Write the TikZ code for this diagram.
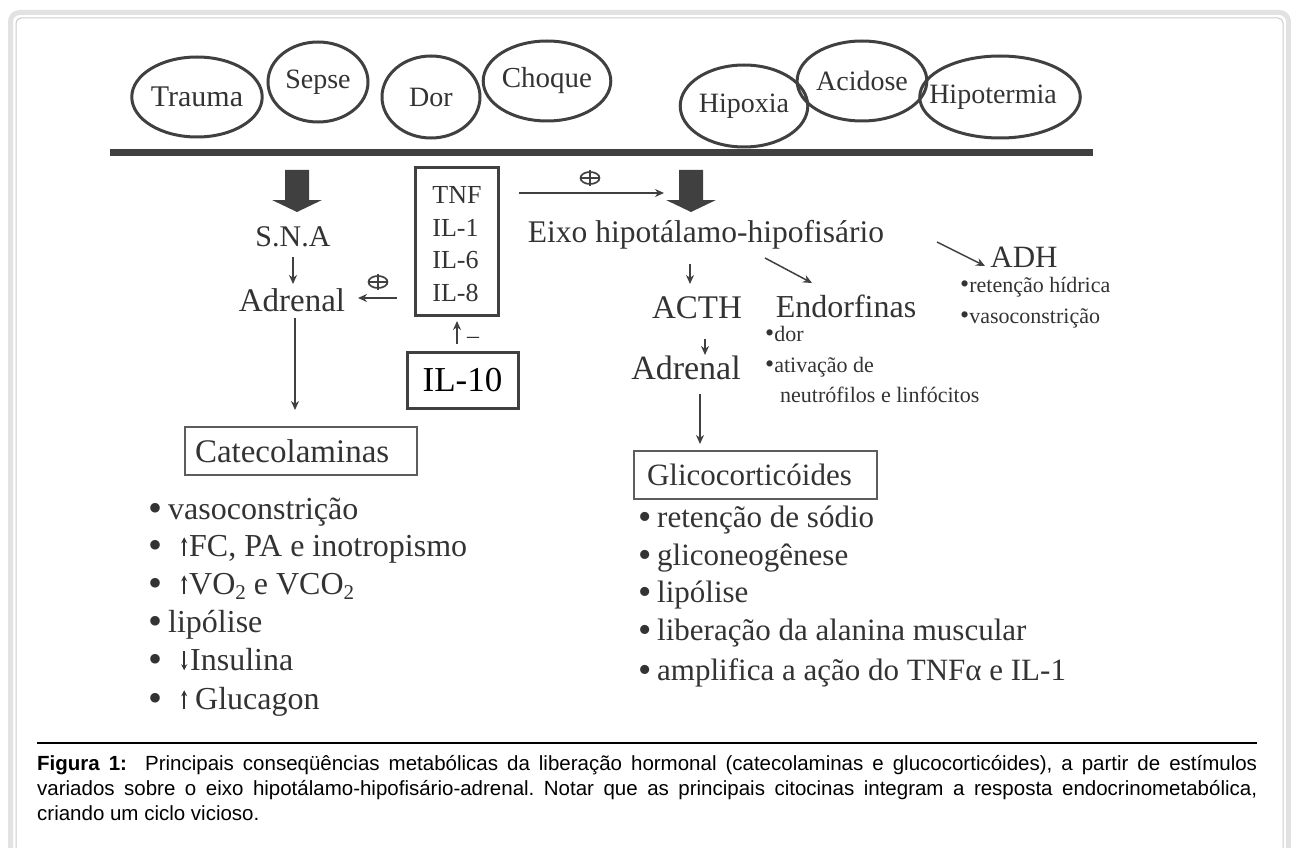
\documentclass[tikz,border=0pt]{standalone}
\usepackage{fontspec}
\setmainfont{Liberation Serif}
\newfontfamily\capfont{Liberation Sans}
\usetikzlibrary{arrows.meta,shapes.geometric}
\definecolor{ink}{HTML}{404040}
\definecolor{txt}{HTML}{333333}
\definecolor{frame}{HTML}{E2E2E2}
\newcommand\fs[1]{\fontsize{#1}{#1}\selectfont}
\newcommand\blt[2]{\raisebox{#2}{\fontsize{#1}{#1}\selectfont •}}
\newcommand\uparr{\tikz[baseline=0pt,x=1pt,y=1pt]\draw[txt,line width=1.8pt,-{Stealth[length=6pt,width=6pt]}] (0,0)--(0,19);}
\newcommand\dnarr{\tikz[baseline=0pt,x=1pt,y=1pt]\draw[txt,line width=1.8pt,-{Stealth[length=6pt,width=6pt]}] (0,19)--(0,0);}
\newcommand\subtwo{\raisebox{-0.35ex}{\fontsize{21}{21}\selectfont 2}}
\tikzset{
  ell/.style={draw=ink, line width=3pt, ellipse, inner sep=0pt, text=txt, font=\fs{28}},
  lbl/.style={text=txt, inner sep=0pt},
  sarr/.style={draw=ink, line width=1.8pt, -{Stealth[length=9pt,width=8pt]}},
  thickbox/.style={draw=ink, line width=3pt, inner sep=0pt},
  thinbox/.style={draw=ink!85, line width=1.5pt},
  oplus/.pic={\draw[ink, line width=1.7pt] (0,0) ellipse [x radius=9.5, y radius=6];
              \draw[ink, line width=1.7pt] (0,-8) -- (0,8);
              \draw[ink, line width=1.2pt] (-9.5,0) -- (9.5,0);},
}
\newcommand\blockarr[2]{%
  \fill[ink] (#1-12,#2) -- (#1+12,#2) -- (#1+12,#2+30) -- (#1+25,#2+30) -- (#1,#2+42) -- (#1-25,#2+30) -- (#1-12,#2+30) -- cycle;}
\begin{document}
\begin{tikzpicture}[x=1pt,y=-1pt]
\useasboundingbox (0,0) rectangle (1291,848);
\begin{scope}
\clip (0,0) rectangle (1291,848);
\draw[frame, line width=5pt, rounded corners=9pt] (10.5,12.5) rectangle (1288.5,880);
\draw[frame!90!black, line width=1pt, rounded corners=5pt] (16,18) rectangle (1283,880);
\end{scope}

% stimuli
\node[ell, minimum width=120pt, minimum height=80pt, font=\fs{30}] (trauma) at (197,97) {Trauma};
\node[ell, minimum width=100pt, minimum height=80pt] (sepse) at (318,82) {Sepse};
\node[ell, minimum width=98pt, minimum height=82pt] (dor) at (431,97) {Dor};
\node[ell, minimum width=124pt, minimum height=80pt, font=\fs{29}] (choque) at (547,81) {Choque};
\node[ell, minimum width=112pt, minimum height=82pt] (hipoxia) at (744,106) {Hipoxia};
\node[ell, minimum width=112pt, minimum height=80pt] (acidose) at (862,81) {Acidose};
\node[ell, minimum width=154pt, minimum height=82pt] (hipotermia) at (1000,97) {\hspace*{-14pt}Hipotermia};

\coordinate (barL) at (110,153);
\coordinate (barR) at (1093,153);
\draw[ink, line width=7pt] (barL) -- (barR);

\blockarr{297}{170}
\blockarr{691}{170}

% left branch
\node[lbl, font=\fs{30}] (sna) at (293,237) {S.N.A};
\node[lbl, font=\fs{33}] (adrL) at (292,300) {Adrenal};
\coordinate (snaA) at (293,257);
\coordinate (snaB) at (293,284);
\draw[sarr, line width=1.5pt] (snaA) -- (snaB);

\node[thickbox, minimum width=83pt, minimum height=147pt] (cyto) at (456.5,241.5) {};
\node[lbl, align=left, font=\fontsize{26}{32.7}\selectfont] (cytotxt) at (457,244) {TNF\\IL-1\\IL-6\\IL-8};

\node[thickbox, minimum width=111pt, minimum height=56pt, font=\fs{35}] (il10) at (462.5,380) {IL-10};
\coordinate (upA) at (457,344);
\coordinate (upB) at (457,321);
\draw[sarr, line width=1.5pt] (upA) -- (upB);
\node[lbl, font=\fs{24}] (minus) at (473,340) {–};

\coordinate (toAdr) at (358,298);
\draw[sarr] (cyto.west |- toAdr) ++(-17,0) -- (toAdr);
\pic at (378,282) {oplus};

\coordinate (toEixo) at (664,193);
\draw[sarr] (cyto.east |- toEixo) ++(19,0) -- (toEixo);
\pic at (590,178) {oplus};

\coordinate (lA) at (295,318);
\coordinate (lB) at (295,410);
\draw[sarr, line width=1.5pt] (lA) -- (lB);

\node[thinbox, minimum height=48pt, inner xsep=10pt, text width=212pt, align=left, text=txt, font=\fs{33}] (cateco) at (301,451) {Catecolaminas};

\begin{scope}[every node/.style={lbl, anchor=mid west, font=\fs{32}}]
\node (c1) at (148,517) {\makebox[20pt][l]{\blt{40}{-2pt}}vasoconstrição};
\node (c2) at (148,554) {\makebox[33pt][l]{\blt{40}{-2pt}}\uparr\hspace{2pt}FC, PA e inotropismo};
\node (c3) at (148,592) {\makebox[33pt][l]{\blt{40}{-2pt}}\uparr\hspace{2pt}VO\subtwo\ e VCO\subtwo};
\node (c4) at (148,630) {\makebox[20pt][l]{\blt{40}{-2pt}}lipólise};
\node (c5) at (148,668) {\makebox[33pt][l]{\blt{40}{-2pt}}\dnarr\hspace{3pt}Insulina};
\node (c6) at (148,707) {\makebox[33pt][l]{\blt{40}{-2pt}}\uparr\hspace{8pt}Glucagon};
\end{scope}

% right branch
\node[lbl, font=\fs{31.5}] (eixo) at (706,235) {Eixo hipotálamo-hipofisário};
\node[lbl, font=\fs{33}] (acth) at (697,308) {ACTH};
\node[lbl, font=\fs{34}] (adrR) at (686,368) {Adrenal};
\node[lbl, font=\fs{32}] (endorf) at (846,306) {Endorfinas};
\node[lbl, font=\fs{31}] (adh) at (1024,257) {ADH};

\coordinate (eA) at (690,264);
\coordinate (eB) at (690,284);
\draw[sarr, line width=1.5pt] (eA) -- (eB);
\coordinate (dA) at (765,258);
\coordinate (dB) at (812,283);
\draw[sarr, line width=1.5pt] (dA) -- (dB);
\coordinate (hA) at (937,242);
\coordinate (hB) at (985,266);
\draw[sarr, line width=1.5pt] (hA) -- (hB);
\coordinate (aA) at (705,339);
\coordinate (aB) at (705,355);
\draw[sarr, line width=1.5pt] (aA) -- (aB);
\coordinate (gA) at (700,394);
\coordinate (gB) at (700,444);
\draw[sarr, line width=1.5pt] (gA) -- (gB);

\begin{scope}[every node/.style={lbl, anchor=mid west, font=\fs{22}}]
\node (r1) at (960,290) {\blt{26}{0pt}retenção hídrica};
\node (r2) at (960,321) {\blt{26}{0pt}vasoconstrição};
\node (d1) at (765,339) {\blt{26}{0pt}dor};
\node (d2) at (765,370) {\blt{26}{0pt}ativação de};
\node (d3) at (780,400) {neutrófilos e linfócitos};
\end{scope}

\node[thinbox, minimum height=48pt, inner xsep=13pt, text width=217pt, align=left, text=txt, font=\fs{31}] (gluco) at (755.5,475) {Glicocorticóides};

\begin{scope}[every node/.style={lbl, anchor=mid west, font=\fs{31}}]
\node (g1) at (638,525) {\makebox[19pt][l]{\blt{38}{-2pt}}retenção de sódio};
\node (g2) at (638,563) {\makebox[19pt][l]{\blt{38}{-2pt}}gliconeogênese};
\node (g3) at (638,600) {\makebox[19pt][l]{\blt{38}{-2pt}}lipólise};
\node (g4) at (638,638) {\makebox[19pt][l]{\blt{38}{-2pt}}liberação da alanina muscular};
\node (g5) at (638,678) {\makebox[19pt][l]{\blt{38}{-2pt}}amplifica a ação do TNFα e IL-1};
\end{scope}

% caption
\coordinate (sepL) at (37,743);
\coordinate (sepR) at (1257,743);
\draw[black, line width=1.5pt] (sepL) -- (sepR);
\node[anchor=north west, inner sep=0pt, text width=1220pt, align=justify,
      font=\capfont\fontsize{20.5}{25}\selectfont\frenchspacing] (caption) at (37,755)
 {\textbf{Figura 1:}\ \ Principais conseqüências metabólicas da liberação hormonal (catecolaminas e glucocorticóides), a partir de estímulos\linebreak variados sobre o eixo hipotálamo-hipofisário-adrenal. Notar que as principais citocinas integram a resposta endocrinometabólica,\linebreak criando um ciclo vicioso.};
\end{tikzpicture}
\end{document}
